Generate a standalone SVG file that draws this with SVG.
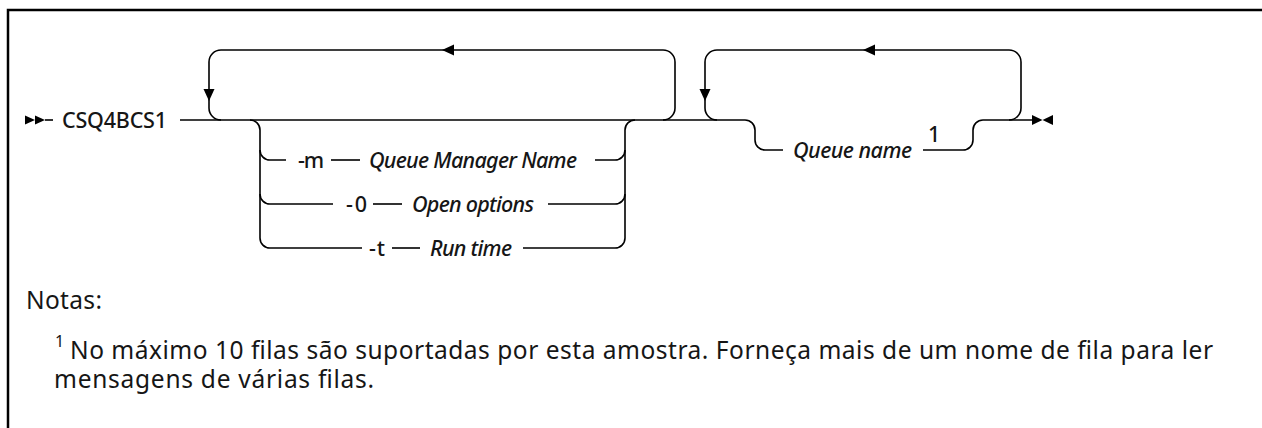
<svg xmlns="http://www.w3.org/2000/svg" width="1262" height="428" viewBox="0 0 1262 428">
<style>
.ln{fill:none;stroke:#000;stroke-width:1.6}
.ah{fill:#000;stroke:none}
.t{font-family:"Noto Sans","Liberation Sans",sans-serif;font-size:21.5px;font-weight:500;fill:#161616}
.i{font-style:italic}
.n{font-family:"Noto Sans","Liberation Sans",sans-serif;font-size:24.5px;fill:#161616}
.sup{font-size:16px}
</style>
<rect x="0" y="0" width="1262" height="428" fill="#fff"/>
<g id="frame">
<path d="M8,428 V10 H1262" fill="none" stroke="#000" stroke-width="2.5"/>
</g>
<g id="connectors">
<polygon class="ah" points="25,115.5 25,124.5 35,120"/>
<polygon class="ah" points="35,115.5 35,124.5 45,120"/>
<path class="ln" d="M45,120 H53"/>
<path class="ln" d="M180,120 H745 a10,10 0 0 1 10,10 V140 a10,10 0 0 0 10,10 H783"/>
<path class="ln" d="M923,150 H963 a10,10 0 0 0 10,-10 V130 a10,10 0 0 1 10,-10 H1032"/>
<path class="ln" d="M663,120 a12,12 0 0 0 12,-12 V62 a12,12 0 0 0 -12,-12 H221 a12,12 0 0 0 -12,12 V108 a12,12 0 0 0 12,12"/>
<polygon class="ah" points="442,50 454,44.5 454,55.5"/>
<polygon class="ah" points="209,101 203.5,89 214.5,89"/>
<path class="ln" d="M1009,120 a12,12 0 0 0 12,-12 V62 a12,12 0 0 0 -12,-12 H717 a12,12 0 0 0 -12,12 V108 a12,12 0 0 0 12,12"/>
<polygon class="ah" points="863,50 875,44.5 875,55.5"/>
<polygon class="ah" points="705,101 699.5,89 710.5,89"/>
<path class="ln" d="M250,120 a10,10 0 0 1 10,10 V238 a10,10 0 0 0 10,10 H362"/>
<path class="ln" d="M260,150 a10,10 0 0 0 10,10 H286"/>
<path class="ln" d="M260,194 a10,10 0 0 0 10,10 H333"/>
<path class="ln" d="M635,120 a10,10 0 0 0 -10,10 V238 a10,10 0 0 1 -10,10 H523"/>
<path class="ln" d="M595,160 H615 a10,10 0 0 0 10,-10"/>
<path class="ln" d="M548,204 H615 a10,10 0 0 0 10,-10"/>
<path class="ln" d="M331,160 H360"/>
<path class="ln" d="M373,204 H402"/>
<path class="ln" d="M392,248 H420"/>
<polygon class="ah" points="1032,115 1032,125 1042.5,120"/>
<polygon class="ah" points="1053,115 1053,125 1042.5,120"/>
</g>
<g id="node-cmd"><text class="t" x="62" y="127.5" textLength="105">CSQ4BCS1</text></g>
<g id="node-m">
<text class="t" x="298" y="167.5" textLength="26">-m</text>
<text class="t i" x="369" y="167.5" textLength="208">Queue Manager Name</text>
</g>
<g id="node-o">
<text class="t" x="346" y="211.5" textLength="21">-0</text>
<text class="t i" x="412" y="211.5" textLength="122">Open options</text>
</g>
<g id="node-t">
<text class="t" x="369" y="255.5" textLength="16">-t</text>
<text class="t i" x="430" y="255.5" textLength="82">Run time</text>
</g>
<g id="node-queue">
<text class="t i" x="793" y="157.5" textLength="119">Queue name</text>
<text class="t" x="928" y="142" font-size="18">1</text>
</g>
<g id="notes">
<text class="n" x="26" y="309" textLength="76">Notas:</text>
<text class="n sup" x="55" y="347">1</text>
<text class="n" x="70" y="359" textLength="1143">No máximo 10 filas são suportadas por esta amostra. Forneça mais de um nome de fila para ler</text>
<text class="n" x="54" y="388" textLength="320">mensagens de várias filas.</text>
</g>
</svg>
